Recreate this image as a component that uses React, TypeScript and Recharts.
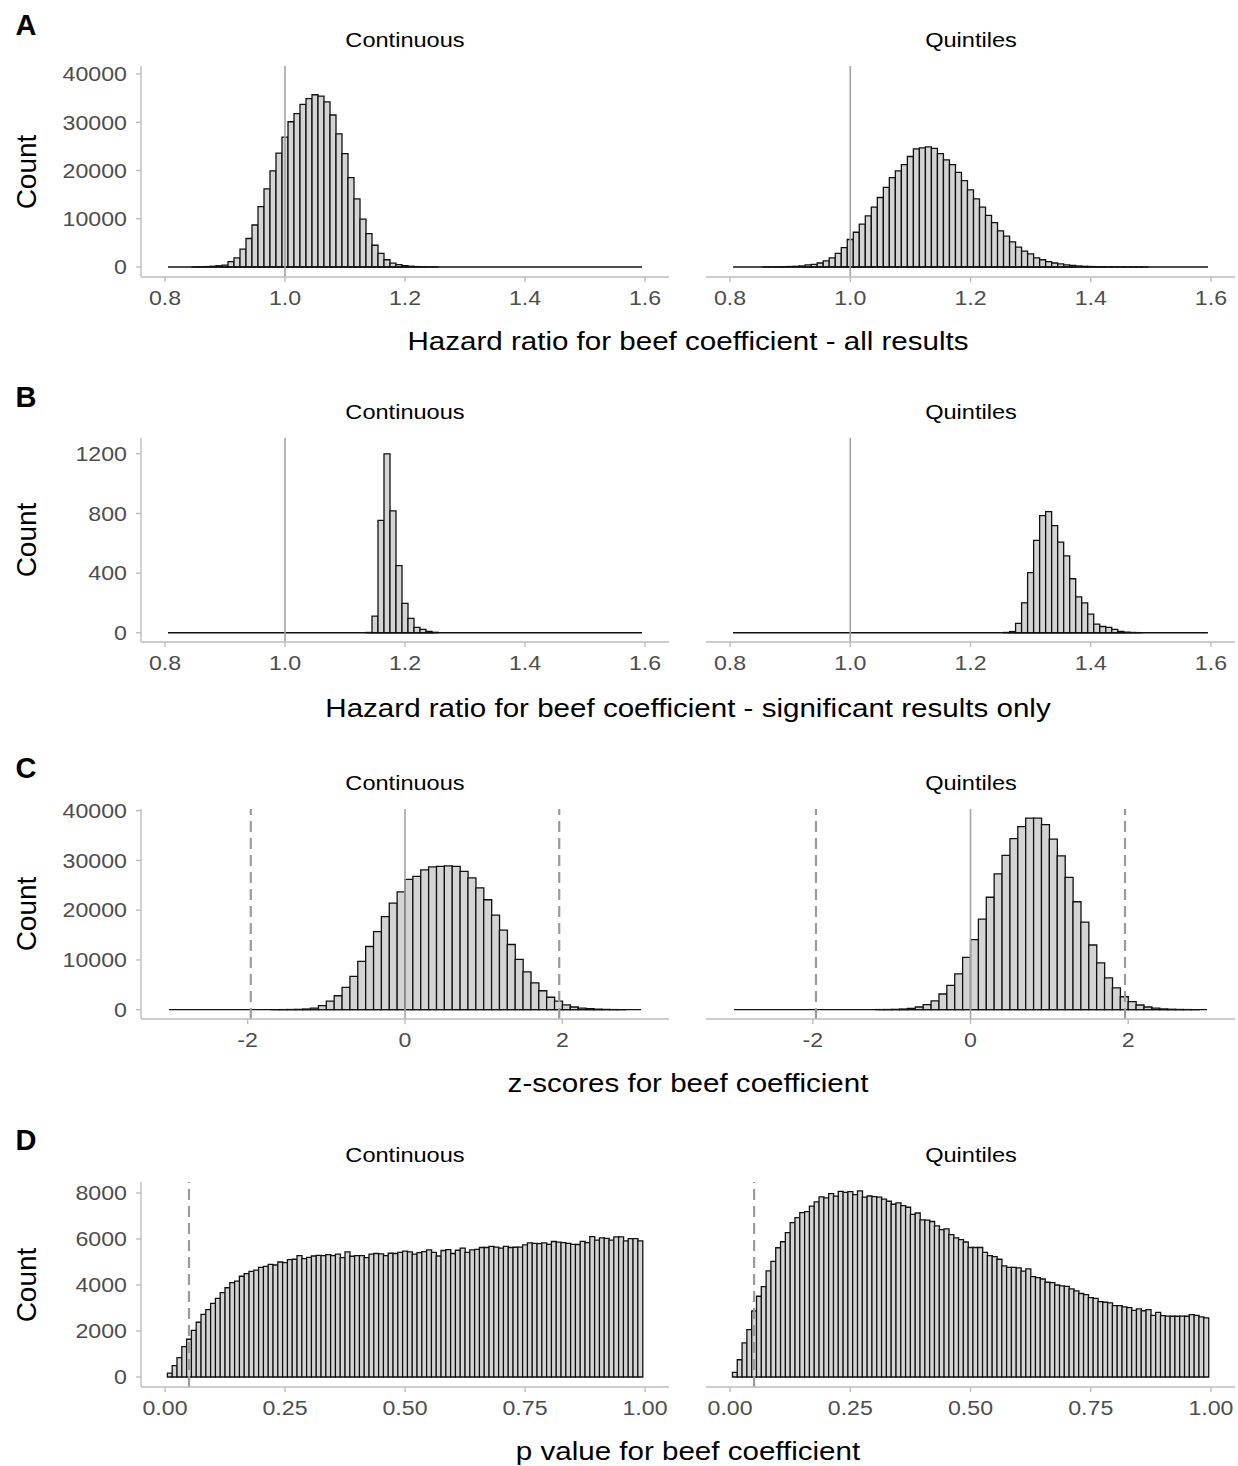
import React from 'react';
import { BarChart, Bar, XAxis, YAxis, ReferenceLine } from 'recharts';

// ---------- bins (bin centres) ----------
const hrBins = [
  0.81, 0.82, 0.83, 0.84, 0.85, 0.86, 0.87, 0.88, 0.89, 0.9,
  0.91, 0.92, 0.93, 0.94, 0.95, 0.96, 0.97, 0.98, 0.99, 1.0,
  1.01, 1.02, 1.03, 1.04, 1.05, 1.06, 1.07, 1.08, 1.09, 1.1,
  1.11, 1.12, 1.13, 1.14, 1.15, 1.16, 1.17, 1.18, 1.19, 1.2,
  1.21, 1.22, 1.23, 1.24, 1.25, 1.26, 1.27, 1.28, 1.29, 1.3,
  1.31, 1.32, 1.33, 1.34, 1.35, 1.36, 1.37, 1.38, 1.39, 1.4,
  1.41, 1.42, 1.43, 1.44, 1.45, 1.46, 1.47, 1.48, 1.49, 1.5,
  1.51, 1.52, 1.53, 1.54, 1.55, 1.56, 1.57, 1.58, 1.59,
];
const zBins = [
  -2.95, -2.85, -2.75, -2.65, -2.55, -2.45, -2.35, -2.25, -2.15, -2.05,
  -1.95, -1.85, -1.75, -1.65, -1.55, -1.45, -1.35, -1.25, -1.15, -1.05,
  -0.95, -0.85, -0.75, -0.65, -0.55, -0.45, -0.35, -0.25, -0.15, -0.05,
  0.05, 0.15, 0.25, 0.35, 0.45, 0.55, 0.65, 0.75, 0.85, 0.95,
  1.05, 1.15, 1.25, 1.35, 1.45, 1.55, 1.65, 1.75, 1.85, 1.95,
  2.05, 2.15, 2.25, 2.35, 2.45, 2.55, 2.65, 2.75, 2.85, 2.95,
];
const pBins = [
  0.01, 0.02, 0.03, 0.04, 0.05, 0.06, 0.07, 0.08, 0.09, 0.1,
  0.11, 0.12, 0.13, 0.14, 0.15, 0.16, 0.17, 0.18, 0.19, 0.2,
  0.21, 0.22, 0.23, 0.24, 0.25, 0.26, 0.27, 0.28, 0.29, 0.3,
  0.31, 0.32, 0.33, 0.34, 0.35, 0.36, 0.37, 0.38, 0.39, 0.4,
  0.41, 0.42, 0.43, 0.44, 0.45, 0.46, 0.47, 0.48, 0.49, 0.5,
  0.51, 0.52, 0.53, 0.54, 0.55, 0.56, 0.57, 0.58, 0.59, 0.6,
  0.61, 0.62, 0.63, 0.64, 0.65, 0.66, 0.67, 0.68, 0.69, 0.7,
  0.71, 0.72, 0.73, 0.74, 0.75, 0.76, 0.77, 0.78, 0.79, 0.8,
  0.81, 0.82, 0.83, 0.84, 0.85, 0.86, 0.87, 0.88, 0.89, 0.9,
  0.91, 0.92, 0.93, 0.94, 0.95, 0.96, 0.97, 0.98, 0.99,
];

// ---------- A: hazard ratio, all results ----------
const hrAllContinuous = [
  0, 0, 0, 0, 20, 40, 80, 150, 250, 400,
  1100, 1900, 3700, 5900, 8700, 12500, 16200, 19900, 23600, 26900,
  30100, 31800, 33700, 34900, 35700, 35400, 34200, 31500, 27600, 23500,
  18500, 14100, 9900, 6900, 4500, 2800, 1500, 800, 500, 300,
  150, 80, 40, 20, 10, 0, 0, 0, 0, 0,
  0, 0, 0, 0, 0, 0, 0, 0, 0, 0,
  0, 0, 0, 0, 0, 0, 0, 0, 0, 0,
  0, 0, 0, 0, 0, 0, 0, 0, 0,
];
const hrAllQuintiles = [
  0, 0, 0, 0, 0, 10, 20, 40, 60, 100,
  140, 210, 420, 560, 830, 1250, 1900, 2800, 4000, 5700,
  7200, 8900, 10600, 12400, 14400, 16500, 18500, 19900, 21200, 22900,
  24500, 24700, 24900, 24600, 23500, 22200, 21200, 19600, 17900, 16000,
  14100, 12400, 10700, 9200, 7500, 6400, 5200, 4100, 3300, 2700,
  1900, 1500, 1100, 830, 630, 420, 350, 200, 140, 100,
  70, 50, 30, 20, 10, 10, 10, 5, 5, 0,
  0, 0, 0, 0, 0, 0, 0, 0, 0,
];

// ---------- B: hazard ratio, significant only ----------
const hrSigContinuous = [
  0, 0, 0, 0, 0, 0, 0, 0, 0, 0,
  0, 0, 0, 0, 0, 0, 0, 0, 0, 0,
  0, 0, 0, 0, 0, 0, 0, 0, 0, 0,
  0, 0, 0, 2, 112, 754, 1200, 817, 450, 197,
  96, 36, 22, 9, 3, 0, 0, 0, 0, 0,
  0, 0, 0, 0, 0, 0, 0, 0, 0, 0,
  0, 0, 0, 0, 0, 0, 0, 0, 0, 0,
  0, 0, 0, 0, 0, 0, 0, 0, 0,
];
const hrSigQuintiles = [
  0, 0, 0, 0, 0, 0, 0, 0, 0, 0,
  0, 0, 0, 0, 0, 0, 0, 0, 0, 0,
  0, 0, 0, 0, 0, 0, 0, 0, 0, 0,
  0, 0, 0, 0, 0, 0, 0, 0, 0, 0,
  0, 0, 0, 0, 0, 2, 8, 63, 201, 403,
  620, 785, 812, 718, 608, 515, 362, 240, 201, 125,
  58, 42, 36, 22, 9, 4, 2, 1, 0, 0,
  0, 0, 0, 0, 0, 0, 0, 0, 0,
];

// ---------- C: z-scores ----------
const zContinuous = [
  0, 0, 0, 0, 0, 0, 0, 0, 0, 0,
  0, 0, 0, 8, 15, 30, 60, 130, 330, 800,
  1700, 2800, 4500, 6700, 9700, 12700, 15700, 18700, 21400, 23700,
  26200, 26800, 28100, 28700, 28800, 28900, 28800, 27800, 26500, 24500,
  22100, 19000, 16000, 13100, 10100, 7600, 5400, 3800, 2500, 1700,
  950, 540, 330, 200, 100, 50, 20, 10, 0, 0,
];
const zQuintiles = [
  0, 0, 0, 0, 0, 0, 0, 0, 0, 0,
  0, 0, 0, 0, 0, 0, 0, 0, 15, 30,
  60, 130, 270, 540, 1000, 1750, 3150, 4900, 7200, 10500,
  14100, 18200, 22600, 27300, 31000, 34400, 36800, 38500, 38500, 37200,
  34300, 30900, 26600, 21700, 17600, 13000, 9400, 6400, 4400, 2600,
  1600, 940, 540, 330, 150, 80, 40, 20, 10, 0,
];

// ---------- D: p values ----------
const pContinuous = [
  170, 490, 840, 1320, 1640, 2030, 2380, 2720, 2930, 3200,
  3420, 3670, 3880, 4100, 4170, 4380, 4490, 4590, 4650, 4770,
  4810, 4900, 4870, 5000, 4970, 5100, 5120, 5280, 5150, 5200,
  5260, 5290, 5280, 5320, 5280, 5340, 5190, 5440, 5250, 5280,
  5280, 5190, 5340, 5370, 5350, 5280, 5380, 5370, 5420, 5470,
  5440, 5340, 5410, 5450, 5530, 5420, 5260, 5500, 5540, 5370,
  5510, 5600, 5420, 5530, 5550, 5630, 5630, 5680, 5650, 5600,
  5680, 5630, 5640, 5650, 5740, 5830, 5810, 5800, 5830, 5770,
  5890, 5860, 5840, 5810, 5770, 5760, 5900, 5840, 6100, 5950,
  6050, 6030, 5950, 6090, 6090, 5920, 6020, 6020, 5920,
];
const pQuintiles = [
  200, 750, 1480, 2060, 2870, 3510, 3930, 4610, 5030, 5620,
  5880, 6280, 6710, 6930, 7150, 7190, 7430, 7610, 7830, 7790,
  7970, 7860, 8070, 8030, 8060, 7930, 8090, 7820, 7870, 7840,
  7820, 7730, 7640, 7510, 7570, 7450, 7380, 7070, 7130, 6830,
  6820, 6760, 6570, 6410, 6440, 6190, 6050, 5970, 5870, 5630,
  5630, 5630, 5420, 5280, 5230, 5120, 4830, 4770, 4770, 4740,
  4600, 4700, 4360, 4320, 4260, 4120, 4100, 4000, 3960, 3940,
  3830, 3740, 3630, 3580, 3450, 3420, 3280, 3250, 3220, 3100,
  3100, 3050, 3020, 2900, 2960, 2880, 2930, 2680, 2810, 2670,
  2650, 2640, 2640, 2650, 2640, 2710, 2680, 2610, 2570,
];

// ---------- ticks & labels ----------
const hrTicks = [0.8, 1.0, 1.2, 1.4, 1.6];
const zTicks = [-2, 0, 2];
const pTicks = [0, 0.25, 0.5, 0.75, 1];
const countTicksBig = [0, 10000, 20000, 30000, 40000];
const countTicksSig = [0, 400, 800, 1200];
const countTicksP = [0, 2000, 4000, 6000, 8000];
const facetTitles = ['Continuous', 'Quintiles'];
const panelLetters = ['A', 'B', 'C', 'D'];
const xTitles = [
  'Hazard ratio for beef coefficient - all results',
  'Hazard ratio for beef coefficient - significant results only',
  'z-scores for beef coefficient',
  'p value for beef coefficient',
];

// ---------- layout / style ----------
const FONT = '"Liberation Sans", Arial, Helvetica, sans-serif';
const AXIS_GREY = '#bdbdbd';
const TICK_TEXT = '#4d4d4d';
const TICK_SX = 1.13;
const TICK_FS = 20.5;
const LEFT_W = 669;
const Y_AXIS_W = 141;
const RIGHT_X = 706;
const RIGHT_W = 529;
const X_AXIS_H = 50;
const TOP_PAD = 16;

const fmt1 = (v: number) => v.toFixed(1);
const fmt2 = (v: number) => v.toFixed(2);
const fmt0 = (v: number) => String(v);

function StretchTick(props: any) {
  const { x, y, payload, textAnchor, dy, format } = props;
  return (
    <text
      x={0}
      y={0}
      dy={dy}
      transform={`translate(${x},${y}) scale(${TICK_SX},1)`}
      textAnchor={textAnchor}
      fill={TICK_TEXT}
      fontSize={TICK_FS}
      fontFamily={FONT}
    >
      {format(payload.value)}
    </text>
  );
}

type PanelProps = {
  left: number;
  top: number;
  width: number;
  plotH: number;
  showY: boolean;
  bins: number[];
  counts: number[];
  xDomain: [number, number];
  xTicks: number[];
  xFmt: (v: number) => string;
  yDomain: [number, number];
  yTicks: number[];
  solid: number[];
  dashed: number[];
  baseline: boolean;
};

function Panel(p: PanelProps) {
  const data = p.bins.map((x, i) => ({ x, count: p.counts[i] }));
  const step = p.bins[1] - p.bins[0];
  const lo = p.bins[0] - step / 2;
  const hi = p.bins[p.bins.length - 1] + step / 2;
  const h = p.plotH + X_AXIS_H + TOP_PAD;
  return (
    <div style={{ position: 'absolute', left: p.left, top: p.top - TOP_PAD, width: p.width, height: h }}>
      <BarChart
        width={p.width}
        height={h}
        data={data}
        margin={{ top: TOP_PAD, right: 0, bottom: 0, left: 0 }}
        barCategoryGap={0}
        barGap={0}
      >
        <XAxis
          dataKey="x"
          type="number"
          domain={p.xDomain}
          ticks={p.xTicks}
          interval={0}
          allowDataOverflow
          height={X_AXIS_H}
          axisLine={{ stroke: AXIS_GREY, strokeWidth: 1.4 }}
          tickLine={{ stroke: AXIS_GREY, strokeWidth: 1.4 }}
          tickSize={5}
          tickMargin={8}
          tick={(tp: any) => <StretchTick {...tp} dy="0.71em" textAnchor="middle" format={p.xFmt} />}
        />
        <YAxis
          type="number"
          domain={p.yDomain}
          ticks={p.yTicks}
          interval={0}
          allowDataOverflow
          hide={!p.showY}
          width={p.showY ? Y_AXIS_W : 0}
          axisLine={{ stroke: AXIS_GREY, strokeWidth: 1.4 }}
          tickLine={{ stroke: AXIS_GREY, strokeWidth: 1.4 }}
          tickSize={5}
          tickMargin={9}
          tick={(tp: any) => <StretchTick {...tp} dy="0.355em" textAnchor="end" format={fmt0} />}
        />
        {p.baseline && (
          <ReferenceLine
            segment={[{ x: lo, y: 0 }, { x: hi, y: 0 }]}
            stroke="#111"
            strokeWidth={1.4}
          />
        )}
        <Bar dataKey="count" fill="#d4d4d4" stroke="#111" strokeWidth={1.3} isAnimationActive={false} />
        {p.solid.map((v) => (
          <ReferenceLine key={`s${v}`} x={v} stroke="#a3a3a3" strokeWidth={1.6} />
        ))}
        {p.dashed.map((v) => (
          <ReferenceLine key={`d${v}`} x={v} stroke="#9b9b9b" strokeWidth={2.2} strokeDasharray="11 6" />
        ))}
      </BarChart>
    </div>
  );
}

function Txt(props: {
  x: number;
  y: number;
  text: string;
  size: number;
  bold?: boolean;
  sx?: number;
  rotate?: boolean;
  color?: string;
}) {
  const t = props.rotate
    ? 'translate(-50%,-50%) rotate(-90deg)'
    : `translate(-50%,-50%) scaleX(${props.sx ?? 1})`;
  return (
    <div
      style={{
        position: 'absolute',
        left: props.x,
        top: props.y,
        transform: t,
        fontSize: props.size,
        fontWeight: props.bold ? 700 : 400,
        fontFamily: FONT,
        color: props.color ?? '#000',
        whiteSpace: 'nowrap',
        lineHeight: 1,
      }}
    >
      {props.text}
    </div>
  );
}

type RowCfg = {
  top: number;
  plotH: number;
  bins: number[];
  left: number[];
  right: number[];
  xDomain: [number, number];
  xTicks: number[];
  xFmt: (v: number) => string;
  yDomain: [number, number];
  yTicks: number[];
  solid: number[];
  dashed: number[];
  baseline: boolean;
  titleY: number;
  letterY: number;
  xTitleY: number;
};

const rows: RowCfg[] = [
  {
    top: 66, plotH: 211, bins: hrBins, left: hrAllContinuous, right: hrAllQuintiles,
    xDomain: [0.76, 1.64], xTicks: hrTicks, xFmt: fmt1,
    yDomain: [-2076, 41656], yTicks: countTicksBig, solid: [1], dashed: [], baseline: true,
    titleY: 40, letterY: 25, xTitleY: 341,
  },
  {
    top: 438, plotH: 204, bins: hrBins, left: hrSigContinuous, right: hrSigQuintiles,
    xDomain: [0.76, 1.64], xTicks: hrTicks, xFmt: fmt1,
    yDomain: [-62, 1306], yTicks: countTicksSig, solid: [1], dashed: [], baseline: true,
    titleY: 412, letterY: 397, xTitleY: 708,
  },
  {
    top: 809, plotH: 210, bins: zBins, left: zContinuous, right: zQuintiles,
    xDomain: [-3.355, 3.355], xTicks: zTicks, xFmt: fmt0,
    yDomain: [-1876, 40343], yTicks: countTicksBig, solid: [0], dashed: [-1.96, 1.96], baseline: true,
    titleY: 783, letterY: 768, xTitleY: 1083,
  },
  {
    top: 1182, plotH: 205, bins: pBins, left: pContinuous, right: pQuintiles,
    xDomain: [-0.05, 1.05], xTicks: pTicks, xFmt: fmt2,
    yDomain: [-435, 8478], yTicks: countTicksP, solid: [], dashed: [0.05], baseline: false,
    titleY: 1155, letterY: 1140, xTitleY: 1451,
  },
];

export default function App() {
  return (
    <div
      style={{
        position: 'absolute',
        left: 0,
        top: 0,
        width: 1238,
        height: 1466,
        background: '#fff',
        overflow: 'hidden',
        fontFamily: FONT,
      }}
    >
      {rows.map((r, i) => (
        <React.Fragment key={i}>
          <Txt x={26} y={r.letterY} text={panelLetters[i]} size={29} bold />
          <Txt x={(Y_AXIS_W + LEFT_W) / 2} y={r.titleY} text={facetTitles[0]} size={20.5} sx={1.15} />
          <Txt x={RIGHT_X + RIGHT_W / 2} y={r.titleY} text={facetTitles[1]} size={20.5} sx={1.15} />
          <Txt x={27} y={r.top + r.plotH / 2} text="Count" size={28} rotate />
          <Txt x={688} y={r.xTitleY} text={xTitles[i]} size={26.5} sx={1.115} />
          <Panel
            left={0}
            top={r.top}
            width={LEFT_W}
            plotH={r.plotH}
            showY
            bins={r.bins}
            counts={r.left}
            xDomain={r.xDomain}
            xTicks={r.xTicks}
            xFmt={r.xFmt}
            yDomain={r.yDomain}
            yTicks={r.yTicks}
            solid={r.solid}
            dashed={r.dashed}
            baseline={r.baseline}
          />
          <Panel
            left={RIGHT_X}
            top={r.top}
            width={RIGHT_W}
            plotH={r.plotH}
            showY={false}
            bins={r.bins}
            counts={r.right}
            xDomain={r.xDomain}
            xTicks={r.xTicks}
            xFmt={r.xFmt}
            yDomain={r.yDomain}
            yTicks={r.yTicks}
            solid={r.solid}
            dashed={r.dashed}
            baseline={r.baseline}
          />
        </React.Fragment>
      ))}
    </div>
  );
}
